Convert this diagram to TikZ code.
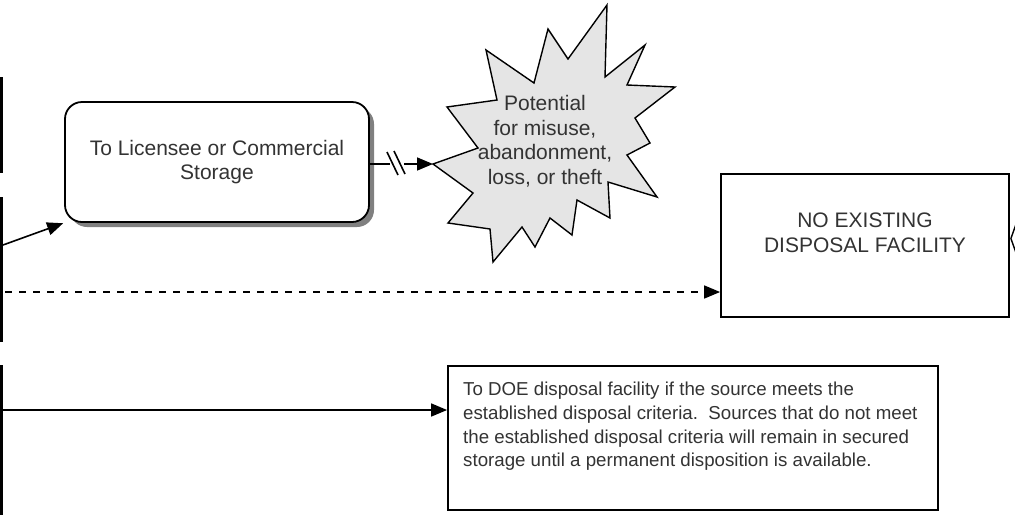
\documentclass[tikz,border=0pt]{standalone}
\usepackage{fontspec}
\setmainfont{Liberation Sans}
\usetikzlibrary{arrows.meta,shadows,calc}
\tikzset{
 txt/.style={text=black!80,font=\fontsize{21}{24.5}\selectfont,align=center},
 roundbox/.style={draw,line width=1.8pt,rounded corners=17pt,fill=white,minimum width=304pt,minimum height=120pt,
  drop shadow={shadow xshift=5pt,shadow yshift=-5pt,fill=black!50,opacity=1},txt},
 plainbox/.style={draw,line width=1.8pt,fill=white,inner sep=0pt},
 conn/.style={line width=1.6pt,-{Triangle[length=16pt,width=13pt]}},
 bar/.style={line width=3pt}
}
\begin{document}
\begin{tikzpicture}[x=1pt,y=-1pt]
 \useasboundingbox (0,0) rectangle (1015,515);
 % bars at the left edge
 \draw[bar](1.5,77)--(1.5,173);
 \draw[bar](1.5,197)--(1.5,342);
 \draw[bar](1.5,365)--(1.5,515);
 % boxes
 \node[roundbox] (storage) at (217,162) {To Licensee or Commercial\\Storage};
 \node[plainbox,minimum width=288pt,minimum height=143pt] (nofacility) at (865,245.5) {};
 \node[txt] (nofacilitytext) at (865,233) {NO EXISTING\\DISPOSAL FACILITY};
 \node[plainbox,minimum width=490pt,minimum height=144pt] (doebox) at (693,438) {};
 \node[txt,font=\fontsize{18.7}{23.7}\selectfont,align=left,anchor=north west,inner sep=0pt] (doetext) at (463,382)
  {To DOE disposal facility if the source meets the\\
   established disposal criteria.\ \ Sources that do not meet\\
   the established disposal criteria will remain in secured\\
   storage until a permanent disposition is available.};
 % starburst
 \draw[line width=1.4pt,fill=black!10](433,164)--(478,148)--(447,107)--(497,100)--(486,50)--(534,83)--(548,29)
  --(568,59)--(607,5)--(605,77)--(645,45)--(627,85)--(675,87)--(635,118)--(650,143)--(627,155)--(657,197)
  --(608,182)--(610,218)--(577,200)--(572,235)--(550,218)--(535,247)--(522,227)--(493,262)--(490,229)
  --(448,223)--(473,193)--cycle;
 \coordinate (burst) at (433,164);
 \node[txt] (risk) at (545,141) {Potential\\for misuse,\\abandonment,\\loss, or theft};
 % connectors
 \coordinate (leftA) at (3,245);
 \coordinate (leftB) at (5,292);
 \coordinate (leftC) at (3,410);
 \coordinate (breakA) at (390,164);
 \coordinate (breakB) at (404,164);
 \draw[conn,shorten >=1pt] (leftA)--(storage.south west);
 \draw[line width=1.6pt] (storage.east|-breakA)--(breakA);
 \draw[line width=1.6pt] (387,152)--(398,175) (394,151)--(405,174);
 \draw[conn] (breakB)--(burst);
 \draw[conn,dash pattern=on 7pt off 7pt] (leftB)--(leftB-|nofacility.west);
 \draw[conn] (leftC)--(leftC-|doebox.west);
 \draw[line width=1.4pt] ($(nofacility.east)+(6,-21)$)--($(nofacility.east)+(1,-7)$)--($(nofacility.east)+(6,7)$);
\end{tikzpicture}
\end{document}
